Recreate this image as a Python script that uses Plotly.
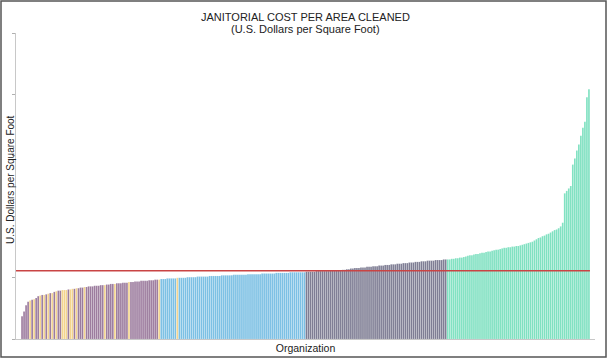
import plotly.graph_objects as go

# ---- data (U.S. dollars per square foot, sorted ascending, by quartile group) ----
q1_values = [0.37,0.45,0.55,0.61,0.63,0.64,0.65,0.67,0.70,0.71,
             0.72,0.72,0.73,0.74,0.75,0.75,0.77,0.78,0.79,0.79,
             0.80,0.80,0.80,0.81,0.81,0.82,0.82,0.83,0.83,0.84,
             0.84,0.85,0.85,0.86,0.86,0.86,0.87,0.87,0.87,0.88,
             0.88,0.88,0.89,0.89,0.90,0.90,0.90,0.91,0.91,0.91,
             0.92,0.92,0.92,0.93,0.93,0.93,0.94,0.94,0.94,0.95,
             0.95,0.95,0.95,0.96,0.96,0.96,0.97,0.97,0.97]
q2_values = [0.98,0.98,0.98,0.99,0.99,0.99,0.99,0.99,1.00,1.00,1.00,1.00,
             1.00,1.01,1.01,1.01,1.01,1.01,1.02,1.02,1.02,1.02,1.02,1.02,
             1.03,1.03,1.03,1.03,1.03,1.03,1.04,1.04,1.04,1.04,1.04,1.04,
             1.05,1.05,1.05,1.05,1.05,1.05,1.05,1.06,1.06,1.06,1.06,1.06,
             1.06,1.06,1.07,1.07,1.07,1.07,1.07,1.07,1.07,1.08,1.08,1.08,
             1.08,1.08,1.08,1.08,1.09,1.09,1.09,1.09,1.09,1.09,1.09,1.09]
q3_values = [1.10,1.10,1.10,1.10,1.10,1.11,1.11,1.11,1.11,1.11,
             1.11,1.11,1.12,1.12,1.12,1.12,1.12,1.12,1.13,1.13,
             1.14,1.14,1.15,1.15,1.16,1.16,1.16,1.17,1.17,1.17,
             1.18,1.18,1.18,1.19,1.19,1.19,1.20,1.20,1.20,1.21,
             1.21,1.21,1.22,1.22,1.22,1.23,1.23,1.23,1.24,1.24,
             1.24,1.25,1.25,1.25,1.26,1.26,1.26,1.27,1.27,1.27,
             1.28,1.28,1.28,1.28,1.29,1.29,1.29,1.29,1.30,1.30]
q4_values = [1.30,1.30,1.31,1.31,1.32,1.32,1.33,1.33,1.34,1.35,
             1.36,1.37,1.37,1.38,1.39,1.39,1.40,1.41,1.41,1.42,
             1.43,1.43,1.44,1.45,1.46,1.46,1.47,1.48,1.49,1.49,
             1.50,1.50,1.51,1.51,1.52,1.52,1.53,1.54,1.55,1.56,
             1.57,1.58,1.59,1.61,1.63,1.65,1.66,1.68,1.69,1.71,
             1.72,1.74,1.76,1.78,1.79,1.81,1.84,1.90,2.38,2.42,
             2.46,2.50,2.85,2.95,3.08,3.18,3.32,3.45,3.55,3.95,4.08]
highlighted_orgs = [4, 6, 9, 11, 13, 15, 17, 20, 21, 22, 24, 25, 27, 31, 41, 46, 53, 68, 77]
benchmark = 1.115
y_ticks = [0, 1, 2, 3, 4, 5]
title_lines = ["JANITORIAL COST PER AREA CLEANED", "(U.S. Dollars per Square Foot)"]

group_colors = ["#9a799c", "#79bfe4", "#7c7b92", "#7de1c0"]
highlight_color = "#f4d48c"

values, colors = [], []
for grp, col in zip([q1_values, q2_values, q3_values, q4_values], group_colors):
    values += grp
    colors += [col] * len(grp)
for i in highlighted_orgs:
    colors[i] = highlight_color
n = len(values)
xs = list(range(n))

fig = go.Figure()
fig.add_trace(go.Bar(x=xs, y=values,
                     marker=dict(color=colors, line=dict(width=0.25, color="rgba(255,255,255,0.4)")),
                     showlegend=False, hoverinfo="y"))

# plot area pixel geometry: left 16, right 595, top 33, bottom 339
W, H = 610, 362
L, R, T, B = 16, 595, 33, 339
pw, ph = R - L, B - T

fig.add_shape(type="line", xref="x", yref="y", x0=-3, x1=n - 0.5, y0=benchmark, y1=benchmark,
              line=dict(color="#c94444", width=1.3))
# outer frame
fig.add_shape(type="rect", xref="paper", yref="paper",
              x0=(1 - L) / pw, x1=(606 - L) / pw, y0=(B - 357) / ph, y1=(B - 1) / ph,
              line=dict(color="#555555", width=1.5), fillcolor="rgba(0,0,0,0)", layer="above")

# title lines (pixel centres 17 and 28)
for txt, ypx in zip(title_lines, [17, 28.5]):
    fig.add_annotation(text=txt, xref="paper", yref="paper", x=(305 - L) / pw, y=(B - ypx) / ph,
                       xanchor="center", yanchor="middle", showarrow=False,
                       font=dict(size=11, color="#222222"))
# y-axis title
fig.add_annotation(text="U.S. Dollars per Square Foot", xref="paper", yref="paper",
                   x=(10 - L) / pw, y=(B - 180) / ph, xanchor="center", yanchor="middle",
                   textangle=-90, showarrow=False, font=dict(size=10, color="#222222"))

fig.update_layout(
    width=W, height=H,
    margin=dict(l=L, r=W - R, t=T, b=H - B, pad=0, autoexpand=False),
    paper_bgcolor="white", plot_bgcolor="white",
    bargap=0.15,
    font=dict(family="Liberation Sans, Arial, sans-serif", color="#222222"),
    xaxis=dict(range=[-3, n + 2], showgrid=False, zeroline=False, showticklabels=False,
               ticks="", showline=True, linecolor="#c8c8c8", linewidth=1, automargin=False,
               title=dict(text="Organization", standoff=5, font=dict(size=10.5))),
    yaxis=dict(range=[0, 5], tickvals=y_ticks, showgrid=False, zeroline=False,
               showticklabels=False, ticks="outside", ticklen=3, tickcolor="#b0b0b0",
               showline=True, linecolor="#c8c8c8", linewidth=1, automargin=False),
)

fig.write_html("out.html", config={"displayModeBar": False},
               post_script="document.body.style.margin='0';document.body.style.padding='0';")
